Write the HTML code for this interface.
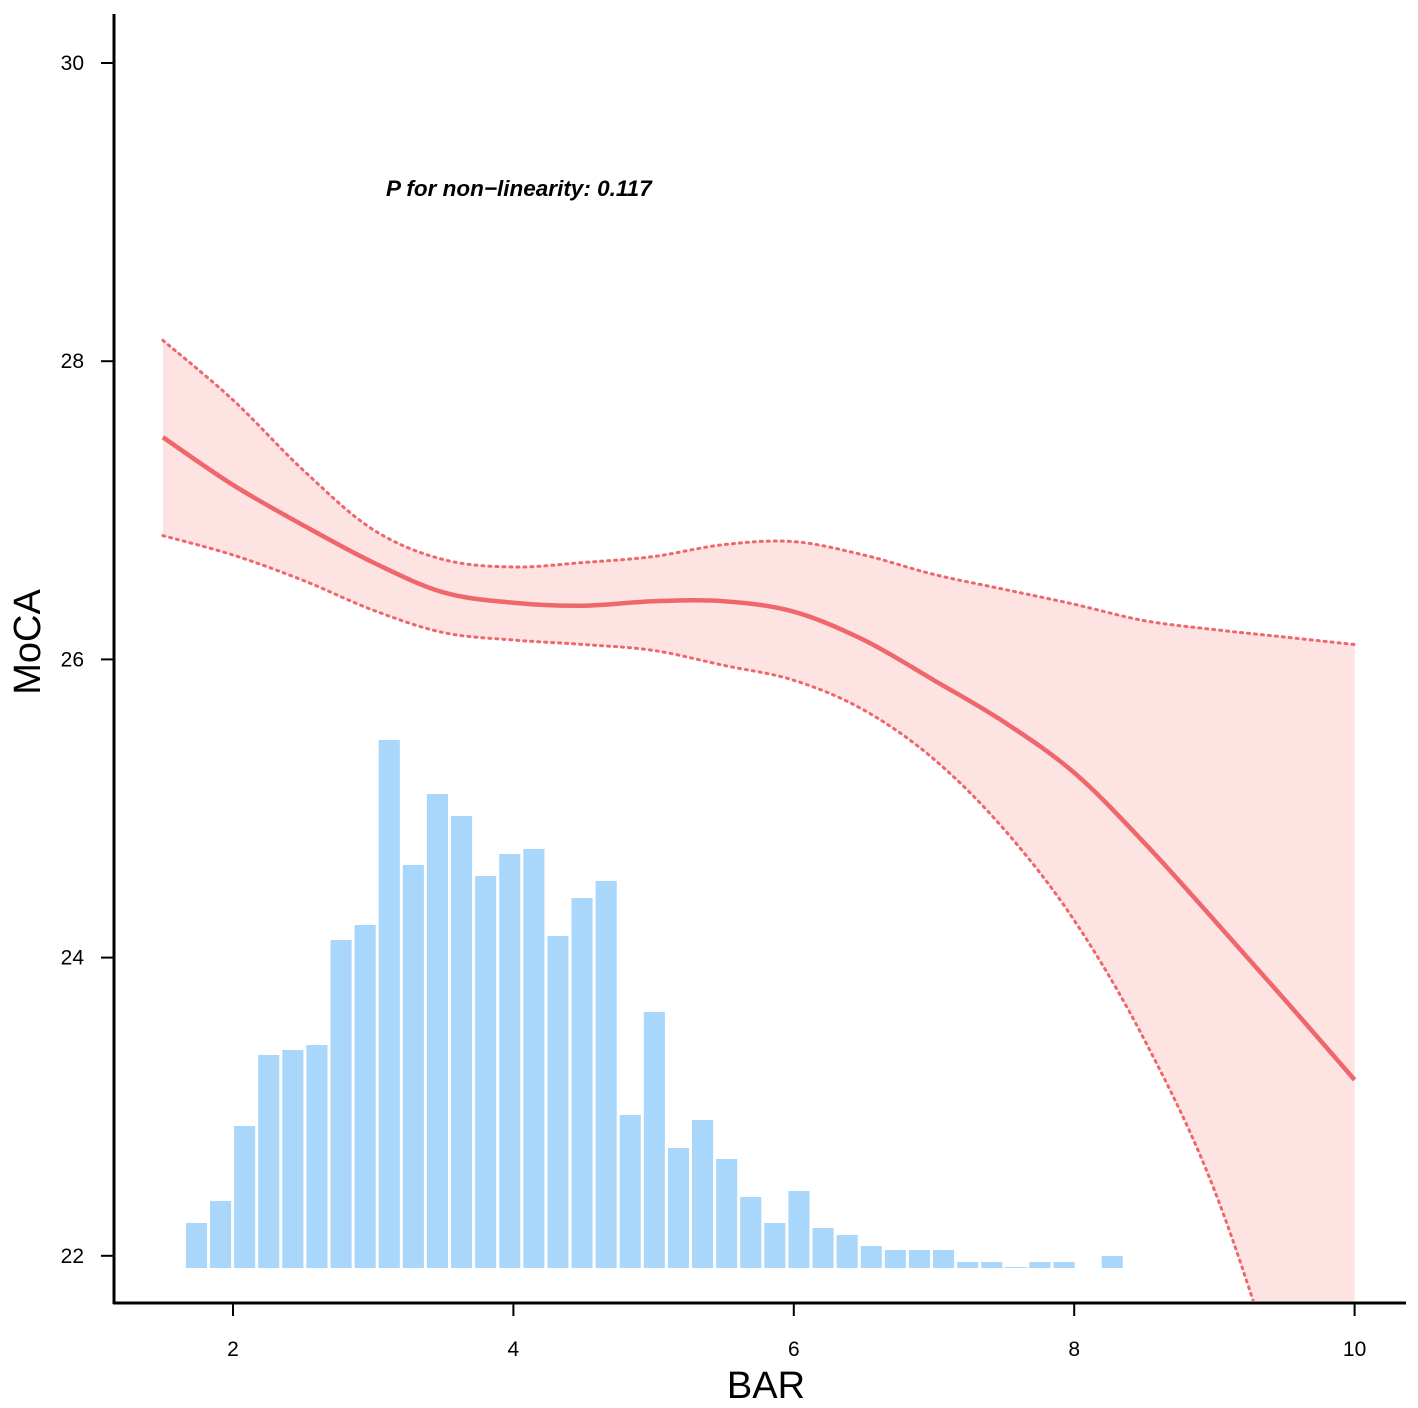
<!DOCTYPE html>
<html><head><meta charset="utf-8"><style>
html,body{margin:0;background:#fff;overflow:hidden;width:1418px;height:1408px;}
svg{display:block;font-family:"Liberation Sans",Arial,sans-serif;}
</style></head><body>
<svg id="chart" width="1418" height="1408" viewBox="0 0 1418 1408">
<defs><clipPath id="plotclip"><rect x="114" y="0" width="1300" height="1301"/></clipPath></defs>
<g id="hist"></g>
<g id="band" clip-path="url(#plotclip)"></g>
<g id="axes"></g>
<text x="386" y="196" font-size="22.5" font-weight="bold" font-style="italic">P for non−linearity: 0.117</text>
<text x="766" y="1398" font-size="38" text-anchor="middle">BAR</text>
<text transform="translate(40,642) rotate(-90)" font-size="38" text-anchor="middle">MoCA</text>
</svg>
<script>
const xs = [1.5,2,2.5,3,3.5,4,4.5,5,5.5,6,6.5,7,7.5,8,8.5,9,9.5,10];
const fit = [27.49,27.17,26.90,26.65,26.45,26.38,26.36,26.39,26.39,26.32,26.13,25.86,25.58,25.24,24.77,24.25,23.72,23.18];
const upper = [28.14,27.74,27.27,26.87,26.67,26.62,26.65,26.69,26.77,26.79,26.70,26.57,26.47,26.37,26.26,26.20,26.15,26.10];
const lower = [26.83,26.70,26.53,26.33,26.18,26.13,26.10,26.06,25.96,25.86,25.66,25.33,24.86,24.25,23.45,22.44,21.03,19.40];
const histCounts = [45,67,142,213,218,223,328,343,528,403,474,452,392,414,419,332,370,387,153,256,120,148,109,71,45,77,40,33,22,18,18,18,6,6,1,6,6,0,12,0,0,0,0,0,1];
const histStart = 1.664, histWidth = 0.1719;
const xTicks = [2,4,6,8,10];
const yTicks = [22,24,26,28,30];

const X = v => 233 + (v-2)*140.2;
const Y = v => 63 + (30-v)*149.1;
const H = c => c;
const histBase = 1268;
const NS='http://www.w3.org/2000/svg';
function mk(tag, attrs, parent){const e=document.createElementNS(NS,tag);for(const k in attrs)e.setAttribute(k,attrs[k]);parent.appendChild(e);return e;}

const hist=document.getElementById('hist');
histCounts.forEach((c,i)=>{
  if(c<=0) return;
  const x0=X(histStart+i*histWidth);
  const w=histWidth*140.2-3;
  const r=mk('rect',{x:x0,y:histBase-H(c),width:w,height:H(c),fill:'#a9d6fb'},hist);
  
  
});

function smooth(pts){
  let d='M'+pts[0][0]+','+pts[0][1];
  for(let i=0;i<pts.length-1;i++){
    const p0=pts[Math.max(0,i-1)],p1=pts[i],p2=pts[i+1],p3=pts[Math.min(pts.length-1,i+2)];
    const c1=[p1[0]+(p2[0]-p0[0])/6,p1[1]+(p2[1]-p0[1])/6];
    const c2=[p2[0]-(p3[0]-p1[0])/6,p2[1]-(p3[1]-p1[1])/6];
    d+=' C'+c1+' '+c2+' '+p2;
  }
  return d;
}
const band=document.getElementById('band');
const up=xs.map((x,i)=>[X(x),Y(upper[i])]);
const lo=xs.map((x,i)=>[X(x),Y(lower[i])]);
const loRev=lo.slice().reverse();
let areaD=smooth(up)+' L'+loRev[0]+' '+smooth(loRev).slice(1)+' Z';
const area=mk('path',{d:areaD,fill:'#fde3e2',stroke:'none'},band);


const ul=mk('path',{d:smooth(up),fill:'none',stroke:'#f0676b','stroke-width':3,'stroke-dasharray':'2 5','stroke-linecap':'round'},band);


const ll=mk('path',{d:smooth(lo),fill:'none',stroke:'#f0676b','stroke-width':3,'stroke-dasharray':'2 5','stroke-linecap':'round'},band);


const fl=mk('path',{d:smooth(xs.map((x,i)=>[X(x),Y(fit[i])])),fill:'none',stroke:'#f0676b','stroke-width':4.5},band);



const axes=document.getElementById('axes');
const ya=mk('line',{x1:114,y1:14,x2:114,y2:1304,stroke:'#000','stroke-width':3},axes);


const xa=mk('line',{x1:113,y1:1303,x2:1406,y2:1303,stroke:'#000','stroke-width':3},axes);


xTicks.forEach(t=>{
  const tk=mk('line',{x1:X(t),y1:1303,x2:X(t),y2:1316,stroke:'#000','stroke-width':2},axes);
  
  
  const tl=mk('text',{x:X(t),y:1356,'font-size':21,'text-anchor':'middle'},axes);
  tl.textContent=t;
  
  
});
yTicks.forEach(t=>{
  const tk=mk('line',{x1:101,y1:Y(t),x2:114,y2:Y(t),stroke:'#000','stroke-width':2},axes);
  
  
  const tl=mk('text',{x:84,y:Y(t)+7,'font-size':21,'text-anchor':'end'},axes);
  tl.textContent=t;
  
  
});
</script>
</body></html>
